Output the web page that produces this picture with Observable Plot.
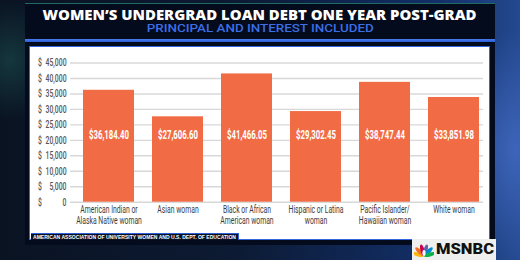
<!DOCTYPE html>
<html>
<head>
<meta charset="utf-8">
<script src="https://cdn.jsdelivr.net/npm/d3@7"></script>
<script src="https://cdn.jsdelivr.net/npm/@observablehq/plot@0.6"></script>
<style>
  html, body { margin: 0; padding: 0; }
  body {
    width: 520px; height: 260px; overflow: hidden; position: relative;
    background:
      radial-gradient(ellipse 60px 120px at 515px 150px, rgba(70,110,200,0.75), rgba(20,40,90,0) 100%),
      radial-gradient(ellipse 50px 60px at 10px 60px, rgba(40,120,110,0.35), rgba(0,0,0,0) 100%),
      linear-gradient(90deg, #0a1322 0%, #0c1a33 45%, #13306a 85%, #24498f 100%);
    font-family: Roboto, "Noto Sans", sans-serif;
  }
  .abs { position: absolute; }
  #panel { left: 25px; top: 3px; width: 470px; height: 242px; background: #030b1c; border-top: 1px solid #1f6a62; box-sizing: border-box; }
  #blueline { left: 25px; top: 38.5px; width: 470px; height: 3px; background: linear-gradient(180deg, #4a7cf0, #2a5bd6); }
  #white { left: 28.5px; top: 45.5px; width: 461.5px; height: 194px; background: #fff; border: 1.5px solid #3565e0; box-sizing: border-box; }
  .center { left: 0; width: 520px; text-align: center; white-space: nowrap; }
  .center span { display: inline-block; transform-origin: 50% 50%; }
  #title { top: 8px; height: 14px; line-height: 14px; font-size: 14px; font-weight: 900; color: #fff; font-family: "Open Sans", Roboto, sans-serif; }
  #subtitle { top: 23px; height: 12px; line-height: 12px; font-size: 11px; font-weight: 500; color: #3c6ee6; font-family: Roboto, "Liberation Sans", sans-serif; }
  #chart { left: 30px; top: 47px; width: 459px; height: 191px; }
  #source { left: 31px; top: 232.5px; width: 208px; height: 7px; background: #0a1226; border-top: 1px solid #2f5fd6; border-right: 1px solid #2f5fd6; box-sizing: border-box; overflow: hidden; white-space: nowrap; font-size: 5.5px; line-height: 6px; }
  #source span { display: inline-block; font-size: 5.5px; line-height: 6px; font-weight: 700; color: #fff; transform-origin: 0 50%; margin-left: 2px; vertical-align: top; font-family: "Liberation Sans", Arial, sans-serif; }
  #logo { left: 412px; top: 239px; width: 84px; height: 21px; background: #efefef; }
  #logo svg { position: absolute; left: 2px; top: 4px; }
  #logo span { position: absolute; left: 24px; top: 3px; font-size: 14px; line-height: 15px; font-weight: 900; color: #111; display: inline-block; transform-origin: 0 50%; font-family: Roboto, sans-serif; }
</style>
</head>
<body>
<div id="panel" class="abs"></div>
<div id="blueline" class="abs"></div>
<div id="title" class="abs center"><span>WOMEN’S UNDERGRAD LOAN DEBT ONE YEAR POST-GRAD</span></div>
<div id="subtitle" class="abs center"><span>PRINCIPAL AND INTEREST INCLUDED</span></div>
<div id="white" class="abs"></div>
<div id="chart" class="abs"></div>
<div id="source" class="abs"><span>AMERICAN ASSOCIATION OF UNIVERSITY WOMEN AND U.S. DEPT. OF EDUCATION</span></div>
<div id="logo" class="abs">
  <svg width="20" height="14" viewBox="0 0 20 14">
    <g transform="translate(10,13)">
      <ellipse cx="0" cy="-6" rx="2" ry="6" fill="#fcb711" transform="rotate(-75)"/>
      <ellipse cx="0" cy="-6" rx="2" ry="6" fill="#f37021" transform="rotate(-45)"/>
      <ellipse cx="0" cy="-6" rx="2" ry="6" fill="#cc004c" transform="rotate(-15)"/>
      <ellipse cx="0" cy="-6" rx="2" ry="6" fill="#6460aa" transform="rotate(15)"/>
      <ellipse cx="0" cy="-6" rx="2" ry="6" fill="#0089d0" transform="rotate(45)"/>
      <ellipse cx="0" cy="-6" rx="2" ry="6" fill="#0db14b" transform="rotate(75)"/>
      <ellipse cx="0" cy="-3" rx="1.6" ry="3" fill="#fff"/>
    </g>
  </svg>
  <span>MSNBC</span>
</div>
<script>
const categories = [
  "American Indian or\nAlaska Native woman",
  "Asian woman",
  "Black or African\nAmerican woman",
  "Hispanic or Latina\nwoman",
  "Pacific Islander/\nHawaiian woman",
  "White woman"
];
const debt = [36184.40, 27606.60, 41466.05, 29302.45, 38747.44, 33851.98];
const yTicks = [0, 5000, 10000, 15000, 20000, 25000, 30000, 35000, 40000, 45000];

const data = categories.map((c, i) => ({group: c, value: debt[i]}));
const money = d3.format("$,.2f");
const thousands = d3.format(",");

const svg = Plot.plot({
  width: 459,
  height: 191,
  marginLeft: 40,
  marginRight: 6,
  marginTop: 15.5,
  marginBottom: 36.3,
  style: {background: "white", fontFamily: "Roboto, sans-serif", overflow: "visible"},
  x: {domain: categories, paddingInner: 0.254, paddingOuter: 0.105, align: 0.81, label: null},
  y: {domain: [0, 45000], ticks: yTicks, label: null},
  marks: [
    Plot.gridY(yTicks, {stroke: "#d8d8d8", strokeOpacity: 1, strokeWidth: 1.4}),
    Plot.barY(data, {x: "group", y: "value", fill: "#f16c45"}),
    Plot.text(data, {x: "group", text: d => money(d.value), frameAnchor: "middle", dy: 3, fill: "white", fontSize: 12, fontWeight: 700}),
    Plot.axisY(yTicks, {tickSize: 0, tickPadding: 4, tickFormat: thousands, fontSize: 10.5, fontWeight: 500, fill: "#555", label: null}),
    Plot.axisY(yTicks, {tickSize: 0, tickPadding: 4, tickFormat: () => "$", textAnchor: "start", dx: -28.5, fontSize: 10.5, fontWeight: 500, fill: "#555", label: null}),
    Plot.axisX({tickSize: 0, tickPadding: 3, fontSize: 10.5, lineHeight: 1.05, fill: "#3c3c3c", label: null})
  ]
});
document.getElementById("chart").appendChild(svg);

// condense chart text (reference uses a narrow typeface)
svg.querySelectorAll("text").forEach(t => {
  const spans = t.querySelectorAll("tspan");
  const els = spans.length ? Array.from(spans) : [t];
  els.forEach(e => {
    const L = e.getComputedTextLength();
    if (L > 0) {
      e.setAttribute("textLength", (L * 0.65).toFixed(2));
      e.setAttribute("lengthAdjust", "spacingAndGlyphs");
    }
  });
});

function fitX(el, w) {
  const r = el.getBoundingClientRect().width;
  el.style.transform = `scaleX(${w / r})`;
}
fitX(document.querySelector("#title span"), 434);
fitX(document.querySelector("#subtitle span"), 227);
fitX(document.querySelector("#source span"), 203);
fitX(document.querySelector("#logo span"), 58);
</script>
</body>
</html>
